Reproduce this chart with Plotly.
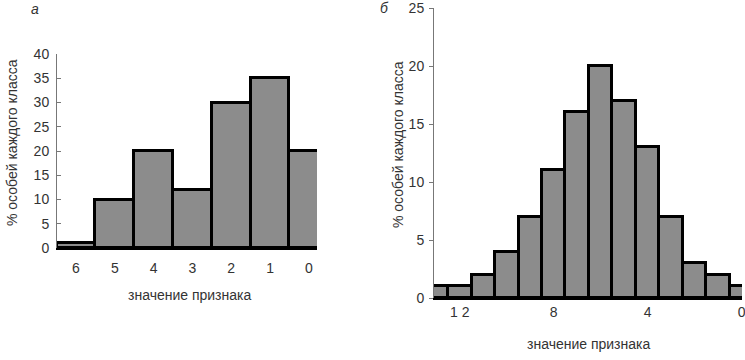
import plotly.graph_objects as go

# Panel а
a_classes = [6, 5, 4, 3, 2, 1, 0]
a_values = [1, 10, 20, 12, 30, 35, 20]
a_yticks = [0, 5, 10, 15, 20, 25, 30, 35, 40]

# Panel б
b_classes = [13, 12, 11, 10, 9, 8, 7, 6, 5, 4, 3, 2, 1, 0]
b_values = [1, 1, 2, 4, 7, 11, 16, 20, 17, 13, 7, 3, 2, 1]
b_xtickvals = [12, 8, 4, 0]
b_xticktext = ["1 2", "8", "4", "0"]
b_yticks = [0, 5, 10, 15, 20, 25]

y_title = "% особей каждого класса"
x_title = "значение признака"

FONT = "Liberation Sans, Arial, sans-serif"
TXT = "#333333"
FILL = "#8c8c8c"

fig = go.Figure()
fig.add_trace(go.Bar(x=a_classes, y=a_values, width=1, xaxis="x", yaxis="y",
                     marker=dict(color=FILL, line=dict(color="black", width=3)),
                     showlegend=False, hoverinfo="skip"))
fig.add_trace(go.Bar(x=b_classes, y=b_values, width=1, xaxis="x2", yaxis="y2",
                     marker=dict(color=FILL, line=dict(color="black", width=3)),
                     showlegend=False, hoverinfo="skip"))

W, H = 745, 360
def px(x):
    return x / W
def py(y):
    return 1 - y / H

common_x = dict(showgrid=False, zeroline=False, showline=True, linecolor="black",
                linewidth=2, ticks="", automargin=False, ticklabeloverflow="allow",
                tickfont=dict(family=FONT, size=14, color=TXT))
common_y = dict(showgrid=False, zeroline=False, showline=True, linecolor="#777777",
                linewidth=1, tickcolor="#777777", ticklen=4, automargin=False,
                ticklabeloverflow="allow",
                tickfont=dict(family=FONT, size=14, color=TXT))

fig.update_layout(
    template="none",
    width=W, height=H,
    margin=dict(l=0, r=0, t=0, b=0, pad=0),
    paper_bgcolor="white", plot_bgcolor="white",
    bargap=0,
    xaxis=dict(domain=[px(57), px(317)], range=[6.49, -0.21], tickvals=a_classes,
               anchor="y", ticklabelstandoff=6, **common_x),
    yaxis=dict(domain=[py(248), py(54)], range=[0, 40], tickvals=a_yticks,
               anchor="x", ticks="inside", ticklabelstandoff=4, **common_y),
    xaxis2=dict(domain=[px(434), px(742)], range=[13.1, -0.02], tickvals=b_xtickvals,
                ticktext=b_xticktext, anchor="y2", ticklabelstandoff=0, **common_x),
    yaxis2=dict(domain=[py(298), py(8)], range=[0, 25], tickvals=b_yticks,
                anchor="x2", ticks="outside", ticklabelstandoff=2, **common_y),
)

ann_font = dict(family=FONT, size=14, color=TXT)
def note(x, y, text, **kw):
    fig.add_annotation(x=px(x), y=py(y), xref="paper", yref="paper", text=text,
                       showarrow=False, xanchor="center", yanchor="middle",
                       font=ann_font, **kw)

note(189, 295, x_title)
note(588, 344, x_title)
note(12, 143, y_title, textangle=-90)
note(398, 145, y_title, textangle=-90)
note(35, 9, "<i>а</i>")
note(384, 8, "<i>б</i>")

fig.write_html(
    "out.html",
    config={"displayModeBar": False},
    post_script="document.body.style.margin='0';document.body.style.overflow='hidden';"
                "document.documentElement.style.overflow='hidden';",
)
